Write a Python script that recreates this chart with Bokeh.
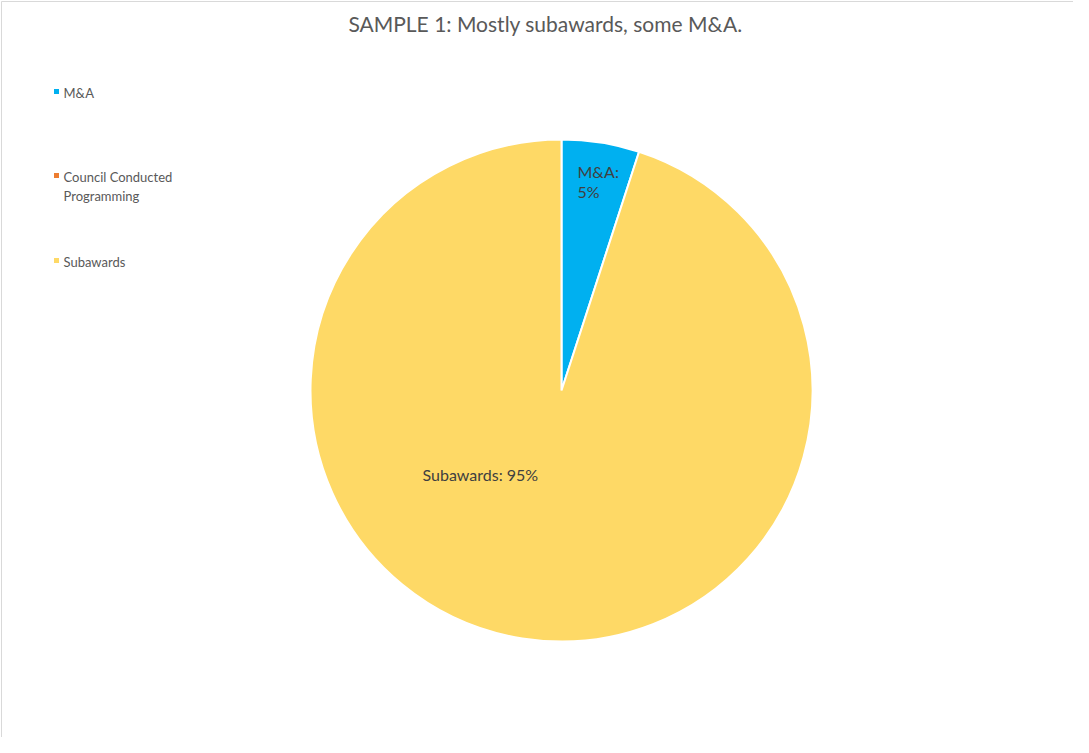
import numpy as np
from bokeh.plotting import figure
from bokeh.models import ColumnDataSource, Range1d
from bokeh.core.properties import value
from bokeh.embed import file_html
from bokeh.resources import INLINE

# ---- data ----
categories = ["M&A", "Council Conducted Programming", "Subawards"]
legend_labels = ["M&A", "Council Conducted\nProgramming", "Subawards"]
shares = [5, 0, 95]
colors = ["#00B0F0", "#ED7D31", "#FED966"]
title_text = "SAMPLE 1: Mostly subawards, some M&A."

W, H = 1073, 737
FONT = "Lato"
TXT = "#595959"

p = figure(width=W, height=H, output_backend="svg", toolbar_location=None,
           x_range=Range1d(0, W), y_range=Range1d(0, H), min_border=0)
p.axis.visible = False
p.grid.visible = False
p.outline_line_color = None
p.background_fill_color = "white"

# chart frame (left and top edges)
p.line(x=[1, 1, W], y=[0, H - 1, H - 1], line_color="#D9D9D9", line_width=1)

# ---- pie ----
cx, cy, r = 561, 347, 251
vals = np.array(shares, dtype=float)
frac = vals / vals.sum()
ends = np.cumsum(frac)
starts = ends - frac
start_ang = np.pi / 2 - starts * 2 * np.pi
end_ang = np.pi / 2 - ends * 2 * np.pi
keep = vals > 0
src = ColumnDataSource(dict(
    start=start_ang[keep], end=end_ang[keep],
    color=[c for c, k in zip(colors, keep) if k],
    x=[cx] * int(keep.sum()), y=[cy] * int(keep.sum()),
))
p.wedge(x="x", y="y", radius=r, start_angle="start", end_angle="end",
        direction="clock", fill_color="color", line_color="white", line_width=2,
        source=src)

# ---- data labels ----
p.text(x=[577], y=[576], text=["M&A:\n5%"], text_font=value(FONT),
       text_font_size="16px", text_color="#404040", text_align="left",
       text_baseline="top", text_line_height=1.1)
p.text(x=[422], y=[263], text=["Subawards: 95%"], text_font=value(FONT),
       text_font_size="16px", text_color="#404040", text_align="left",
       text_baseline="middle")

# ---- legend (manual) ----
leg_y = [653, 569, 484]
p.scatter(x=[56] * 3, y=[y - 7 for y in leg_y], marker="square", size=5,
          fill_color=colors, line_color=None)
p.text(x=[63] * 3, y=leg_y, text=legend_labels, text_font=value(FONT),
       text_font_size="13px", text_color=TXT, text_align="left",
       text_baseline="top", text_line_height=1.2)

# ---- title ----
p.text(x=[545], y=[714], text=[title_text], text_font=value(FONT),
       text_font_size="21px", text_color=TXT, text_align="center",
       text_baseline="middle")

open("out.html", "w").write(file_html(p, INLINE))
